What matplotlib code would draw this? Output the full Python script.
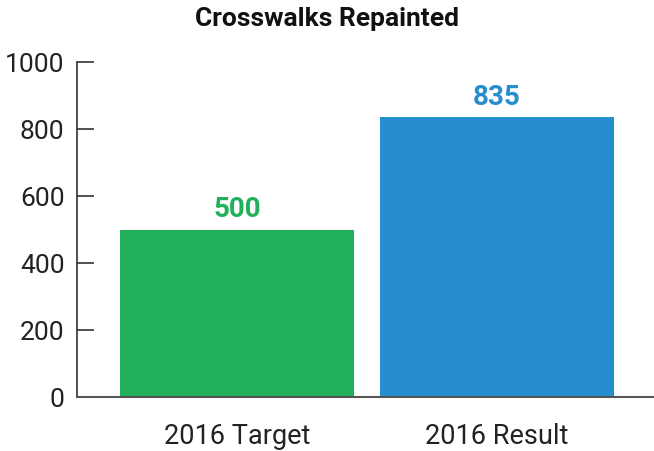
import matplotlib
matplotlib.use("Agg")
import matplotlib.pyplot as plt

# Data
categories = ["2016 Target", "2016 Result"]
values = [500, 835]
bar_colors = ["#22B05A", "#268DCF"]
y_ticks = [0, 200, 400, 600, 800, 1000]

plt.rcParams['font.family'] = ['Roboto', 'DejaVu Sans']

fig = plt.figure(figsize=(6.54, 4.52), dpi=100)
ax = fig.add_axes([77 / 654, 54 / 452, 577 / 654, 335 / 452])

x = list(range(len(categories)))
bars = ax.bar(x, values, width=0.9, color=bar_colors, zorder=2)

for xi, v, c in zip(x, values, bar_colors):
    ax.text(xi, v + 22, str(v), ha='center', va='bottom',
            fontsize=20, fontweight='bold', color=c)

ax.set_xlim(-0.615, 1.604)
ax.set_ylim(0, 1000)
ax.set_yticks(y_ticks)
ax.set_xticks(x)
ax.set_xticklabels(categories)

for side in ['top', 'right']:
    ax.spines[side].set_visible(False)
ax.spines['left'].set_color('#333333')
ax.spines['left'].set_linewidth(1.2)
ax.spines['bottom'].set_color('#555555')
ax.spines['bottom'].set_linewidth(1.5)
ax.spines['bottom'].set_zorder(3)

ax.tick_params(axis='y', direction='in', length=12, width=1.2,
               color='#333333', labelsize=19, labelcolor='#222222', pad=9)
ax.tick_params(axis='x', length=0, labelsize=19.5, labelcolor='#222222', pad=18)

fig.suptitle("Crosswalks Repainted", x=0.5, y=0.985, fontsize=19,
             fontweight='bold', color='#111111')

fig.savefig("out.png", dpi=100)
